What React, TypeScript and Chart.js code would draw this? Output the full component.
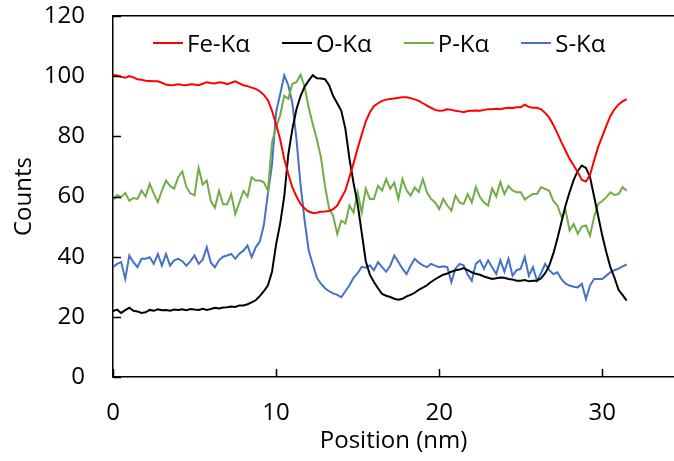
import React, { useEffect, useRef } from "react";
import { Chart, registerables } from "chart.js";

Chart.register(...registerables);

// Position step (nm) between successive samples
const POSITION_STEP = 0.25;

const FE_KA = [
  100.5, 100.2, 99.8, 99.5, 100.0, 99.6, 99.0, 98.8, 98.5, 98.4, 98.3, 98.3,
  97.8, 97.2, 97.0, 97.1, 97.3, 97.1, 97.0, 97.3, 97.2, 97.0, 97.5, 98.0,
  97.7, 97.6, 98.0, 97.8, 97.3, 97.8, 98.3, 97.6, 97.0, 96.7, 96.2, 95.8,
  95.0, 93.8, 92.0, 88.5, 84.0, 79.0, 72.5, 67.5, 63.0, 60.0, 57.5, 56.0,
  55.0, 54.5, 54.6, 54.9, 55.0, 55.2, 55.8, 57.0, 59.5, 62.0, 66.5, 71.0,
  76.0, 80.5, 85.0, 88.0, 90.0, 91.0, 91.8, 92.2, 92.4, 92.6, 92.8, 93.0,
  93.0, 92.7, 92.3, 91.8, 91.0, 90.2, 89.5, 88.8, 88.5, 88.6, 89.0, 88.8,
  88.5, 88.3, 88.0, 88.4, 88.5, 88.6, 88.5, 88.8, 89.0, 89.0, 89.2, 89.0,
  89.3, 89.5, 89.4, 89.7, 89.7, 90.5, 89.8, 89.5, 89.5, 89.0, 87.8, 86.2,
  83.8, 81.0, 78.0, 75.2, 72.5, 70.3, 68.1, 65.5, 65.0, 67.2, 72.0, 76.5,
  80.0, 83.5, 86.8, 89.0, 90.6, 91.6, 92.4,
];

const O_KA = [
  21.9, 22.4, 21.3, 22.2, 23.0, 22.0, 21.8, 21.3, 21.5, 22.3, 22.0, 22.5,
  22.2, 22.3, 22.0, 22.4, 22.3, 22.5, 22.2, 22.6, 22.4, 22.3, 22.7, 22.3,
  22.6, 23.0, 22.8, 23.1, 23.2, 23.4, 23.3, 23.8, 23.8, 24.2, 24.8, 25.5,
  26.9, 28.5, 30.5, 35.0, 44.0, 51.0, 60.0, 74.0, 82.5, 89.0, 93.4, 96.5,
  98.5, 100.3, 99.3, 99.2, 99.0, 97.0, 93.4, 91.0, 88.5, 82.5, 72.5, 64.5,
  57.5, 48.0, 38.5, 34.0, 31.6, 29.5, 27.6, 27.0, 26.6, 26.0, 25.7, 26.0,
  26.8, 27.3, 28.0, 29.0, 29.7, 30.5, 31.6, 32.5, 33.3, 34.0, 34.4, 35.0,
  35.5, 35.7, 36.2, 35.5, 34.8, 34.3, 34.0, 33.4, 33.0, 32.6, 32.8, 33.1,
  33.0, 32.6, 32.4, 32.0, 32.0, 32.2, 31.8, 32.0, 32.0, 32.8, 34.5, 37.0,
  41.0, 46.0, 51.5, 57.0, 61.5, 65.5, 68.5, 70.3, 69.5, 66.5, 60.0, 53.5,
  47.0, 41.5, 36.5, 33.0, 29.0, 27.2, 25.4,
];

const P_KA = [
  58.6, 60.5, 59.8, 61.2, 58.6, 59.5, 59.2, 62.0, 60.0, 64.2, 61.0, 58.1,
  62.0, 65.3, 63.5, 62.6, 66.4, 68.3, 63.1, 61.0, 60.4, 69.5, 64.0, 65.3,
  58.5, 56.3, 61.9, 57.4, 57.4, 60.8, 54.2, 58.0, 61.9, 60.0, 66.4, 65.3,
  65.3, 64.7, 61.9, 78.0, 83.0, 87.0, 93.5, 92.5, 97.5, 98.0, 100.5, 96.5,
  89.5, 84.0, 79.0, 73.0, 63.5, 56.0, 53.6, 47.5, 52.0, 51.0, 57.0, 54.7,
  61.4, 54.7, 62.6, 59.2, 59.2, 63.5, 62.0, 65.8, 62.6, 64.6, 59.2, 65.8,
  62.0, 60.3, 63.0, 61.5, 65.8, 61.4, 59.2, 58.0, 55.8, 59.2, 57.0, 55.3,
  60.3, 58.0, 57.5, 60.8, 58.0, 63.1, 59.8, 58.0, 57.0, 62.6, 60.0, 64.8,
  60.8, 63.5, 62.0, 61.4, 61.4, 59.0, 60.0, 60.8, 60.8, 63.1, 62.5, 61.9,
  58.5, 57.0, 53.2, 55.4, 48.7, 50.9, 47.6, 50.0, 50.4, 47.0, 53.2, 57.5,
  58.5, 59.8, 61.4, 60.5, 60.8, 63.1, 61.9,
];

const S_KA = [
  36.5, 37.6, 38.2, 32.6, 40.4, 38.2, 36.5, 39.3, 39.3, 39.8, 37.6, 40.9,
  37.0, 40.9, 37.0, 38.8, 39.3, 38.5, 37.0, 38.5, 40.4, 37.6, 39.0, 43.1,
  38.0, 36.5, 38.8, 40.0, 40.4, 40.9, 39.3, 41.0, 42.0, 43.7, 39.8, 43.1,
  45.0, 50.5, 61.0, 70.5, 88.0, 94.0, 100.3, 97.0, 91.0, 79.0, 64.0, 52.0,
  42.0, 37.5, 33.0, 31.0, 29.5, 28.5, 27.8, 27.3, 26.5, 28.5, 30.5, 33.0,
  34.5, 36.6, 36.3, 37.1, 35.5, 38.2, 36.5, 35.0, 37.0, 40.4, 38.2, 36.0,
  34.2, 37.0, 39.3, 38.0, 37.1, 36.5, 37.6, 37.0, 36.5, 36.8, 36.5, 31.5,
  36.0, 37.6, 37.1, 34.0, 32.0, 37.6, 38.8, 36.0, 38.8, 36.5, 34.2, 38.8,
  35.0, 39.3, 33.7, 35.5, 36.0, 39.9, 33.7, 36.5, 32.0, 34.5, 37.6, 35.5,
  34.2, 34.8, 32.5, 31.0, 30.4, 30.0, 29.8, 31.0, 25.9, 30.4, 32.6, 32.6,
  32.6, 33.7, 34.8, 35.5, 36.0, 36.8, 37.4,
];

const SERIES_LABELS = ["Fe-Kα", "O-Kα", "P-Kα", "S-Kα"];
const SERIES_VALUES = [FE_KA, O_KA, P_KA, S_KA];
const SERIES_COLORS = ["#FF0000", "#000000", "#70AD47", "#4472C4"];

const X_TICKS = [0, 10, 20, 30];
const Y_TICKS = [0, 20, 40, 60, 80, 100, 120];
const X_MIN = 0;
const X_MAX = 34.4;
const Y_MIN = 0;
const Y_MAX = 120;

const X_TITLE = "Position (nm)";
const Y_TITLE = "Counts";

const FONT = "'Open Sans', Lato, sans-serif";
const FONT_SIZE = 24;

const insideTicks = {
  id: "insideTicks",
  afterDraw(chart: any) {
    const { ctx, chartArea, scales } = chart;
    ctx.save();
    ctx.strokeStyle = "#000";
    ctx.lineWidth = 1.5;
    scales.y.ticks.forEach((t: any) => {
      const y = Math.round(scales.y.getPixelForValue(t.value)) + 0.5;
      ctx.beginPath();
      ctx.moveTo(chartArea.left, y);
      ctx.lineTo(chartArea.left + 8, y);
      ctx.stroke();
    });
    scales.x.ticks.forEach((t: any) => {
      const x = Math.round(scales.x.getPixelForValue(t.value)) + 0.5;
      ctx.beginPath();
      ctx.moveTo(x, chartArea.bottom);
      ctx.lineTo(x, chartArea.bottom - 8);
      ctx.stroke();
    });
    ctx.restore();
  },
};

export default function App() {
  const canvasRef = useRef<HTMLCanvasElement | null>(null);

  useEffect(() => {
    if (!canvasRef.current) return;
    const chart = new Chart(canvasRef.current, {
      type: "line",
      data: {
        datasets: SERIES_VALUES.map((vals, i) => ({
          label: SERIES_LABELS[i],
          data: vals.map((v, j) => ({ x: j * POSITION_STEP, y: v })),
          borderColor: SERIES_COLORS[i],
          backgroundColor: SERIES_COLORS[i],
          borderWidth: 2,
          pointRadius: 0,
          tension: 0,
          fill: false,
        })),
      },
      options: {
        responsive: false,
        animation: false,
        events: [],
        layout: { padding: { top: 16, right: 0, left: 0, bottom: 0 } },
        plugins: {
          legend: { display: false },
          tooltip: { enabled: false },
        },
        scales: {
          x: {
            type: "linear",
            min: X_MIN,
            max: X_MAX,
            afterBuildTicks: (s: any) => {
              s.ticks = X_TICKS.map((v) => ({ value: v }));
            },
            afterFit: (s: any) => {
              s.height = 84;
              s.paddingLeft = 0;
              s.paddingRight = 0;
            },
            grid: { display: false, drawTicks: false },
            border: { display: true, color: "#000", width: 1.5 },
            ticks: {
              color: "#000",
              font: { family: FONT, size: FONT_SIZE },
              padding: 22,
              maxRotation: 0,
              autoSkip: false,
            },
            title: {
              display: true,
              text: X_TITLE,
              color: "#000",
              font: { family: FONT, size: FONT_SIZE },
              padding: { top: 0, bottom: 5 },
            },
          },
          y: {
            type: "linear",
            min: Y_MIN,
            max: Y_MAX,
            afterBuildTicks: (s: any) => {
              s.ticks = Y_TICKS.map((v) => ({ value: v }));
            },
            afterFit: (s: any) => {
              s.width = 113;
              s.paddingTop = 0;
              s.paddingBottom = 0;
            },
            grid: {
              drawTicks: false,
              lineWidth: 1.5,
              color: (c: any) =>
                c.tick && c.tick.value === Y_MAX ? "#000" : "rgba(0,0,0,0)",
            },
            border: { display: true, color: "#000", width: 1.5 },
            ticks: {
              color: "#000",
              font: { family: FONT, size: FONT_SIZE },
              padding: 28,
              autoSkip: false,
            },
            title: {
              display: true,
              text: Y_TITLE,
              color: "#000",
              font: { family: FONT, size: FONT_SIZE },
              padding: { top: 10, bottom: 0 },
            },
          },
        },
      },
      plugins: [insideTicks],
    });
    return () => chart.destroy();
  }, []);

  return (
    <div
      style={{
        position: "fixed",
        left: 0,
        top: 0,
        width: 674,
        height: 461,
        background: "#fff",
        overflow: "hidden",
      }}
    >
      <canvas
        ref={canvasRef}
        width={674}
        height={461}
        style={{ display: "block", width: 674, height: 461 }}
      />
      <div
        style={{
          position: "absolute",
          left: 153,
          top: 28,
          display: "flex",
          alignItems: "center",
          gap: 32,
          fontFamily: FONT,
          fontSize: FONT_SIZE,
          lineHeight: "30px",
          color: "#000",
          whiteSpace: "nowrap",
        }}
      >
        {SERIES_LABELS.map((label, i) => (
          <div key={label} style={{ display: "flex", alignItems: "center" }}>
            <span
              style={{
                display: "inline-block",
                width: 30,
                height: 2,
                background: SERIES_COLORS[i],
                marginRight: 4,
              }}
            />
            <span>{label}</span>
          </div>
        ))}
      </div>
    </div>
  );
}
